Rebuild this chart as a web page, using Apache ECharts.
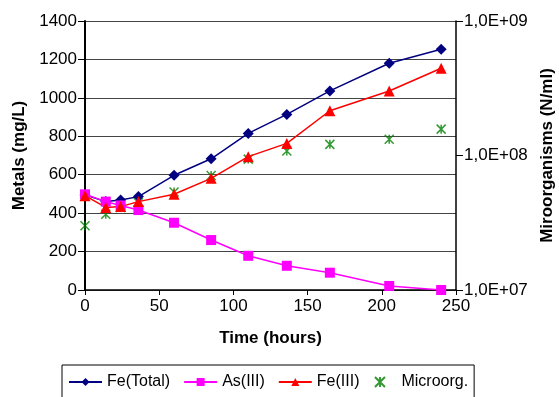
<!DOCTYPE html>
<html lang="en">
<head>
    <meta charset="UTF-8">
    <title>Metals and microorganisms</title>
    <script src="https://cdn.jsdelivr.net/npm/echarts@6/dist/echarts.min.js"></script>
    <style>
        html, body { margin: 0; padding: 0; background: #fff; }
    </style>
</head>
<body>
    <div id="ec" style="width:559px;height:397px"></div>
</body>
<script>
    var hours = [0, 14, 24, 36, 60, 85, 110, 136, 165, 205, 240]
    var feTotal = [495, 460, 468, 486, 597, 683, 815, 914, 1036, 1180, 1253]
    var as3 = [498, 460, 440, 416, 350, 260, 178, 126, 90, 21, 0]
    var fe3 = [491, 430, 434, 460, 498, 581, 694, 763, 933, 1036, 1154]
    var microorg = [3.0e7, 3.66e7, 4.1e7, 4.46e7, 5.36e7, 7.1e7, 9.4e7, 1.08e8, 1.21e8, 1.32e8, 1.57e8]

    function pairs(ys) {
        return hours.map(function (h, i) { return [h, ys[i]] })
    }

    var font = 'Liberation Sans, Arial, sans-serif'
    var starPath = 'path://M0,0L10,10M10,0L0,10M5,0L5,10'

    var mychart = echarts.init(document.getElementById('ec'))
    var options = {
        backgroundColor: '#fff',
        textStyle: { fontFamily: font, color: '#000' },
        grid: { left: 85, right: 103, top: 21, bottom: 107, outerBoundsMode: 'none', containLabel: false },
        legend: {
            left: 62,
            top: 365,
            padding: [9, 6, 12, 6],
            itemWidth: 33,
            itemHeight: 10,
            itemGap: 13,
            borderColor: '#000',
            borderWidth: 1,
            textStyle: { fontSize: 16, color: '#000', fontFamily: font },
            data: ['Fe(Total)', 'As(III)', 'Fe(III)', 'Microorg.']
        },
        xAxis: {
            type: 'value',
            min: 0, max: 250, interval: 50,
            name: 'Time (hours)',
            nameLocation: 'middle',
            nameGap: 40,
            nameTextStyle: { fontSize: 17, fontWeight: 'bold', fontFamily: font },
            axisLine: { lineStyle: { color: '#000', width: 1.5 } },
            axisTick: { length: 5, lineStyle: { color: '#000' } },
            axisLabel: { fontSize: 17, color: '#000', margin: 8 },
            splitLine: { show: false }
        },
        yAxis: [
            {
                type: 'value',
                min: 0, max: 1400, interval: 200,
                name: 'Metals (mg/L)',
                nameLocation: 'middle',
                nameRotate: 90,
                nameGap: 57,
                nameTextStyle: { fontSize: 17, fontWeight: 'bold', fontFamily: font },
                axisLine: { show: true, lineStyle: { color: '#000', width: 2 } },
                axisTick: { show: true, length: 7, lineStyle: { color: '#000' } },
                axisLabel: {
                    fontSize: 17, color: '#000', margin: 8,
                    formatter: function (v) { return String(v) }
                },
                splitLine: { lineStyle: { color: '#444', width: 1 } }
            },
            {
                type: 'log',
                logBase: 10,
                min: 1e7, max: 1e9,
                position: 'right',
                name: 'Miroorganisms (N/ml)',
                nameLocation: 'middle',
                nameRotate: 90,
                nameGap: 83,
                nameTextStyle: { fontSize: 17, fontWeight: 'bold', fontFamily: font },
                axisLine: { show: true, lineStyle: { color: '#000', width: 1.5 } },
                axisTick: { show: true, length: 7, lineStyle: { color: '#000' } },
                axisLabel: {
                    fontSize: 17, color: '#000', margin: 8,
                    formatter: function (v) {
                        var e = Math.round(Math.log10(v))
                        return '1,0E+' + (e < 10 ? '0' + e : e)
                    }
                },
                splitLine: { show: false }
            }
        ],
        series: [
            {
                name: 'Fe(Total)',
                type: 'line',
                yAxisIndex: 0,
                symbol: 'diamond',
                symbolSize: 11,
                color: '#000080',
                lineStyle: { width: 1.5 },
                data: pairs(feTotal)
            },
            {
                name: 'As(III)',
                type: 'line',
                yAxisIndex: 0,
                symbol: 'rect',
                symbolSize: 10,
                color: '#ff00ff',
                lineStyle: { width: 1.5 },
                data: pairs(as3)
            },
            {
                name: 'Fe(III)',
                type: 'line',
                yAxisIndex: 0,
                symbol: 'triangle',
                symbolSize: 11,
                color: '#ff0000',
                lineStyle: { width: 1.5 },
                data: pairs(fe3)
            },
            {
                name: 'Microorg.',
                type: 'scatter',
                yAxisIndex: 1,
                symbol: starPath,
                symbolSize: 9,
                itemStyle: { color: 'none', borderColor: '#008000', borderWidth: 1.5 },
                data: pairs(microorg)
            }
        ]
    }
    mychart.setOption(options)
</script>
</html>
